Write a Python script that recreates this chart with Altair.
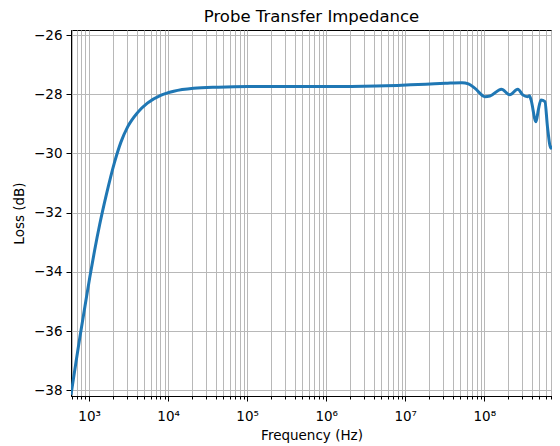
import altair as alt
import pandas as pd

# Data
freq_hz = [590, 682, 765, 884, 1020, 1178, 1361, 1650, 2096, 2541, 3073, 4098, 5464,
           8035, 11780, 20950, 43000, 102000, 1.0e6, 4.3e6, 1.82e7, 3.23e7, 5.22e7,
           6.31e7, 7.65e7, 1.02e8, 1.18e8, 1.65e8, 2.1e8, 2.66e8, 3.07e8, 3.55e8,
           3.73e8, 3.91e8, 4.52e8, 4.83e8, 5.22e8, 5.86e8, 6.31e8, 6.96e8, 7.66e8]
loss_db = [-38.15, -37.05, -36.2, -35.18, -34.18, -33.25, -32.4, -31.4, -30.3, -29.6,
           -29.1, -28.62, -28.3, -28.04, -27.9, -27.8, -27.76, -27.74, -27.74, -27.72,
           -27.66, -27.63, -27.61, -27.65, -27.8, -28.08, -28.06, -27.83, -28.02, -27.83,
           -28.02, -28.08, -28.05, -28.19, -28.93, -28.53, -28.19, -28.25, -29.1, -29.82,
           -29.71]

major_x = [1e3, 1e4, 1e5, 1e6, 1e7, 1e8]
minor_x = [m * 10 ** e for e in range(2, 9) for m in range(2, 10)]
minor_x = [v for v in minor_x if 590 <= v <= 7.2e8]
y_ticks = [-38, -36, -34, -32, -30, -28, -26]

df = pd.DataFrame({"f": freq_hz, "loss": loss_db})

x_scale = alt.Scale(type="log", domain=[590, 7.2e8], nice=False)
y_scale = alt.Scale(domain=[-38.19, -25.83], nice=False, zero=False)

sup = "['⁰','¹','²','³','⁴','⁵','⁶','⁷','⁸','⁹'][round(log(datum.value)/LN10)]"

y_axis = alt.Axis(values=y_ticks, title="Loss (dB)", tickSize=5, labelPadding=4,
                  labelExpr="replace(format(datum.value,'d'),'-','\u2212')",
                  grid=True, titlePadding=7)

line = alt.Chart(df).mark_line(color="#1f77b4", strokeWidth=3, interpolate="monotone", clip=True).encode(
    x=alt.X("f:Q", scale=x_scale,
            axis=alt.Axis(values=major_x, orient="bottom", title="Frequency (Hz)",
                          labelExpr="'10' + " + sup, tickSize=5, labelPadding=8,
                          grid=True, titlePadding=6)),
    y=alt.Y("loss:Q", scale=y_scale, axis=y_axis),
)

minor = alt.Chart(df).mark_point(opacity=0).encode(
    x=alt.X("f:Q", scale=x_scale,
            axis=alt.Axis(values=minor_x, orient="bottom", title=None, labels=False,
                          tickSize=3, grid=True)),
    y=alt.Y("loss:Q", scale=y_scale, axis=y_axis),
)

chart = alt.layer(minor, line).resolve_axis(x="independent").properties(
    width=481, height=366,
    title=alt.TitleParams("Probe Transfer Impedance", fontSize=16.5, fontWeight="normal",
                          font="DejaVu Sans", color="black", offset=3),
    autosize=alt.AutoSizeParams(type="none"),
    padding={"left": 63, "top": 22, "right": 0, "bottom": 52},
).configure_axis(
    labelFont="DejaVu Sans", titleFont="DejaVu Sans", labelFontSize=13.5, titleFontSize=13.5,
    labelColor="black", titleColor="black", titleFontWeight="normal",
    gridColor="#b8b8b8", gridWidth=1, tickColor="black", domainColor="black",
    domainWidth=1, tickWidth=1,
).configure_view(stroke="black", strokeWidth=1)

chart.save("out.html", embed_options={"renderer": "svg", "actions": False})
